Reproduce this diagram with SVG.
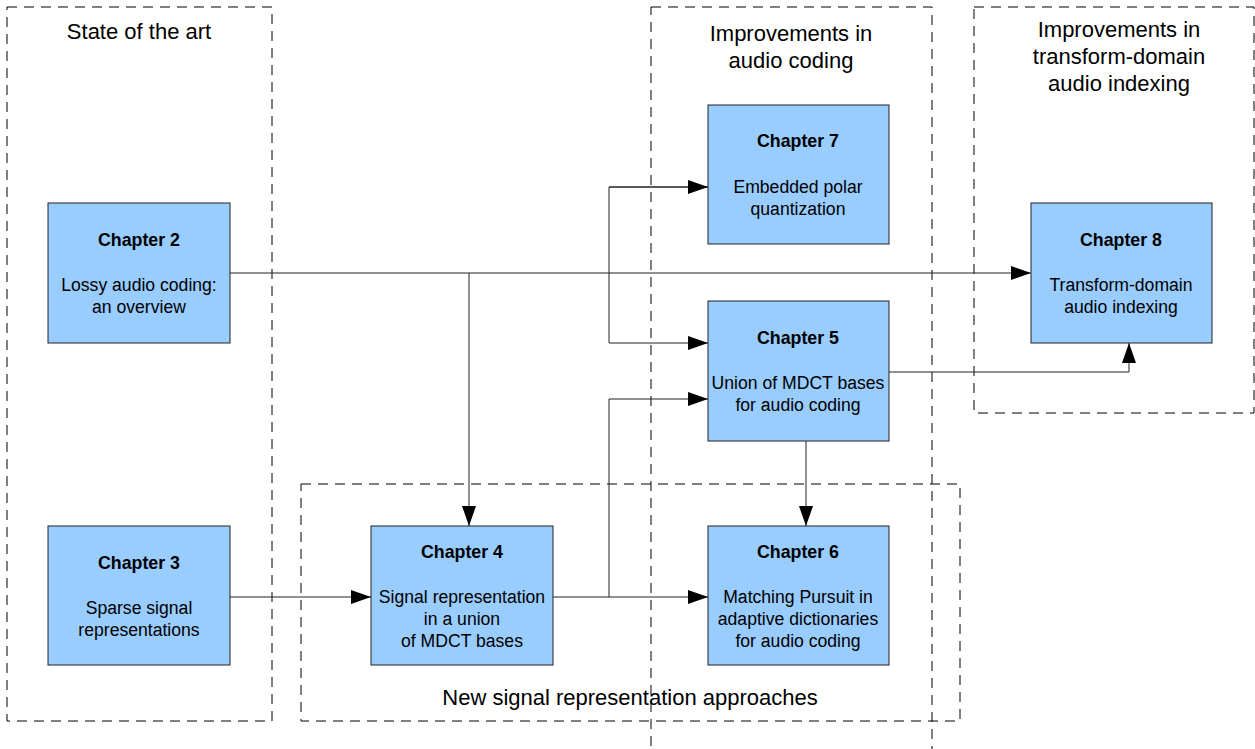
<svg xmlns="http://www.w3.org/2000/svg" width="1255" height="749" viewBox="0 0 1255 749">
<style>
.grp{fill:none;stroke:#000;stroke-width:1;stroke-dasharray:10,7}
.node{fill:#99ccff;stroke:#222;stroke-width:1}
.t{font-family:"Liberation Sans",Arial,sans-serif;font-size:17.6px;text-anchor:middle;fill:#000}
.b{font-weight:bold;font-size:17.8px}
.g{font-family:"Liberation Sans",Arial,sans-serif;font-size:22px;text-anchor:middle;fill:#000}
.c{fill:none;stroke:#222;stroke-width:1}
</style>
<defs>
<marker id="ah" viewBox="0 0 20 14" refX="20" refY="7" markerWidth="20" markerHeight="14" markerUnits="userSpaceOnUse" orient="auto">
<path d="M0,0 L20,7 L0,14 Z" fill="#000"/>
</marker>
</defs>
<rect width="1255" height="749" fill="#fff"/>
<g id="groups">
<rect class="grp" x="7" y="7" width="265" height="714"/>
<rect class="grp" x="651" y="7" width="281" height="760"/>
<rect class="grp" x="974" y="7" width="280" height="406"/>
<rect class="grp" x="301" y="484" width="659" height="237"/>
<text class="g" x="139" y="39">State of the art</text>
<text class="g" x="791" y="41">Improvements in</text>
<text class="g" x="791" y="68">audio coding</text>
<text class="g" x="1119" y="37">Improvements in</text>
<text class="g" x="1119" y="64">transform-domain</text>
<text class="g" x="1119" y="91">audio indexing</text>
<text class="g" x="630" y="705">New signal representation approaches</text>
</g>
<g id="connectors">
<line class="c" x1="230" y1="273" x2="1031" y2="273" marker-end="url(#ah)"/>
<line class="c" x1="469" y1="273" x2="469" y2="526" marker-end="url(#ah)"/>
<polyline class="c" points="708,187 609,187 609,343 708,343" marker-end="url(#ah)"/>
<line class="c" x1="609" y1="187" x2="708" y2="187" marker-end="url(#ah)"/>
<line class="c" x1="230" y1="597" x2="371" y2="597" marker-end="url(#ah)"/>
<line class="c" x1="553" y1="597" x2="708" y2="597" marker-end="url(#ah)"/>
<polyline class="c" points="609,597 609,399 708,399" marker-end="url(#ah)"/>
<polyline class="c" points="889,372 1129,372 1129,343" marker-end="url(#ah)"/>
<line class="c" x1="806" y1="441" x2="806" y2="526" marker-end="url(#ah)"/>
</g>
<g id="ch2">
<rect class="node" x="48" y="203" width="182" height="140"/>
<text class="t b" x="139" y="246">Chapter 2</text>
<text class="t" x="139" y="291">Lossy audio coding:</text>
<text class="t" x="139" y="313">an overview</text>
</g>
<g id="ch3">
<rect class="node" x="48" y="526" width="182" height="139"/>
<text class="t b" x="139" y="569">Chapter 3</text>
<text class="t" x="139" y="614">Sparse signal</text>
<text class="t" x="139" y="636">representations</text>
</g>
<g id="ch4">
<rect class="node" x="371" y="526" width="182" height="139"/>
<text class="t b" x="462" y="558">Chapter 4</text>
<text class="t" x="462" y="603">Signal representation</text>
<text class="t" x="462" y="625">in a union</text>
<text class="t" x="462" y="647">of MDCT bases</text>
</g>
<g id="ch7">
<rect class="node" x="708" y="105" width="181" height="139"/>
<text class="t b" x="798" y="147">Chapter 7</text>
<text class="t" x="798" y="193">Embedded polar</text>
<text class="t" x="798" y="215">quantization</text>
</g>
<g id="ch5">
<rect class="node" x="708" y="301" width="181" height="140"/>
<text class="t b" x="798" y="344">Chapter 5</text>
<text class="t" x="798" y="389">Union of MDCT bases</text>
<text class="t" x="798" y="411">for audio coding</text>
</g>
<g id="ch6">
<rect class="node" x="708" y="526" width="181" height="139"/>
<text class="t b" x="798" y="558">Chapter 6</text>
<text class="t" x="798" y="603">Matching Pursuit in</text>
<text class="t" x="798" y="625">adaptive dictionaries</text>
<text class="t" x="798" y="647">for audio coding</text>
</g>
<g id="ch8">
<rect class="node" x="1031" y="203" width="181" height="140"/>
<text class="t b" x="1121" y="246">Chapter 8</text>
<text class="t" x="1121" y="291">Transform-domain</text>
<text class="t" x="1121" y="313">audio indexing</text>
</g>
</svg>
